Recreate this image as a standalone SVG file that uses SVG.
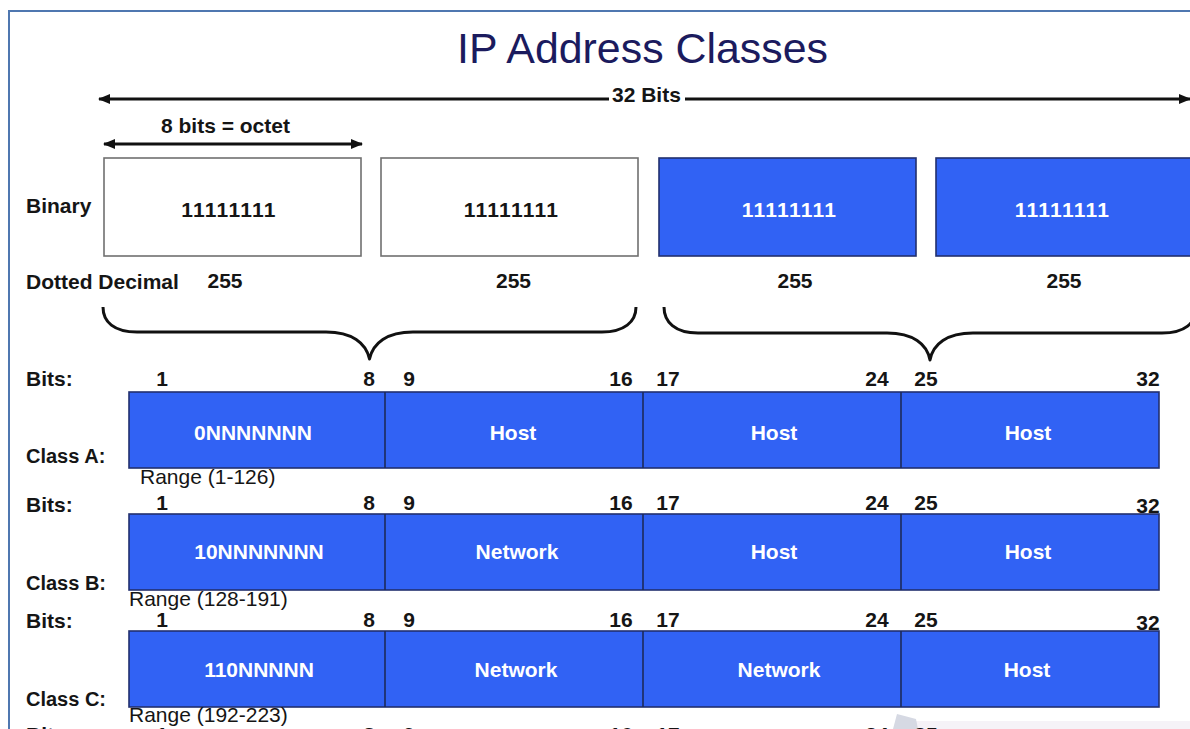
<svg xmlns="http://www.w3.org/2000/svg" width="1190" height="729" viewBox="0 0 1190 729">
  <defs>
    <marker id="tipEnd" markerUnits="userSpaceOnUse" markerWidth="12" markerHeight="10" refX="11" refY="5" orient="auto">
      <path d="M0,0 L12,5 L0,10 Z" fill="#111"/>
    </marker>
    <marker id="tipStart" markerUnits="userSpaceOnUse" markerWidth="12" markerHeight="10" refX="1" refY="5" orient="auto">
      <path d="M12,0 L0,5 L12,10 Z" fill="#111"/>
    </marker>
  </defs>
  <style>
    text { font-family: "Liberation Sans", Arial, sans-serif; }
    .title { font-size: 42px; fill: #1b1b5e; }
    .lbl { font-size: 21px; font-weight: bold; fill: #151515; }
    .cls { font-size: 20px; font-weight: bold; fill: #151515; }
    .num { font-size: 21px; font-weight: bold; fill: #151515; text-anchor: middle; }
    .rng { font-size: 21px; fill: #151515; }
    .in { font-size: 21px; font-weight: bold; fill: #ffffff; text-anchor: middle; }
    .inb { font-size: 21px; font-weight: bold; fill: #151515; text-anchor: middle; }
    .ones { letter-spacing: 1.3px; }
    .white { fill: #ffffff; stroke: #707070; stroke-width: 1.6; }
    .blue { fill: #3162f4; stroke: #22306e; stroke-width: 1.6; }
    .div { stroke: #1c2a5a; stroke-width: 1.6; }
    .line { stroke: #111; stroke-width: 3; fill: none; }
    .brace { stroke: #111; stroke-width: 3; fill: none; stroke-linejoin: round; }
  </style>

  <!-- page frame -->
  <path d="M9,729 L9,11 L1190,11" fill="none" stroke="#4f77b0" stroke-width="2"/>

  <text class="title" x="457" y="63" textLength="371" lengthAdjust="spacingAndGlyphs">IP Address Classes</text>

  <!-- dimension arrows and braces -->
  <g id="connectors">
    <line class="line" x1="99" y1="99" x2="609" y2="99" marker-start="url(#tipStart)"/>
    <line class="line" x1="685" y1="99" x2="1190" y2="99" marker-end="url(#tipEnd)"/>
    <line class="line" x1="104" y1="144" x2="362" y2="144" marker-start="url(#tipStart)" marker-end="url(#tipEnd)"/>
    <path class="brace" d="M103,307 C103,322 114,332 137,332 L326,332 C352,332 366,343 369.5,359 C373,343 387,332 413,332 L602,332 C624,332 636,322 636,307"/>
    <path class="brace" d="M664,307 C664,322 675,333 698,333 L887,333 C913,333 927,344 930,360 C933,344 947,333 973,333 L1162,333 C1185,333 1196,323 1196,308"/>
  </g>
  <text class="lbl" x="612" y="102">32 Bits</text>
  <text class="lbl" x="161" y="133">8 bits = octet</text>

  <!-- octet boxes -->
  <text class="lbl" x="26" y="213">Binary</text>
  <text class="lbl" x="26" y="289">Dotted Decimal</text>
  <g id="octet1">
    <rect class="white" x="104" y="158" width="257" height="98"/>
    <text class="inb ones" x="229" y="217">11111111</text>
    <text class="inb" x="225" y="288">255</text>
  </g>
  <g id="octet2">
    <rect class="white" x="381" y="158" width="257" height="98"/>
    <text class="inb ones" x="511.5" y="217">11111111</text>
    <text class="inb" x="513.5" y="288">255</text>
  </g>
  <g id="octet3">
    <rect class="blue" x="659" y="158" width="257" height="98"/>
    <text class="in ones" x="789.5" y="217">11111111</text>
    <text class="inb" x="795" y="288">255</text>
  </g>
  <g id="octet4">
    <rect class="blue" x="936" y="158" width="260" height="98"/>
    <text class="in ones" x="1062.5" y="217">11111111</text>
    <text class="inb" x="1064" y="288">255</text>
  </g>

  <!-- faint shading at the lower right -->
  <rect x="912" y="721" width="278" height="8" fill="#f5f2f7"/>
  <path d="M893,729 L897,714 L916,719 L918,729 Z" fill="#d6d9e3"/>

  <!-- bit position rows -->
  <g id="bitsA">
    <text class="lbl" x="26" y="386">Bits:</text>
    <text class="num" x="162" y="386">1</text>
    <text class="num" x="369" y="386">8</text>
    <text class="num" x="409" y="386">9</text>
    <text class="num" x="621" y="386">16</text>
    <text class="num" x="668" y="386">17</text>
    <text class="num" x="877" y="386">24</text>
    <text class="num" x="926" y="386">25</text>
    <text class="num" x="1148" y="386">32</text>
  </g>
  <g id="bitsB">
    <text class="lbl" x="26" y="512">Bits:</text>
    <text class="num" x="162" y="510">1</text>
    <text class="num" x="369" y="510">8</text>
    <text class="num" x="409" y="510">9</text>
    <text class="num" x="621" y="510">16</text>
    <text class="num" x="668" y="510">17</text>
    <text class="num" x="877" y="510">24</text>
    <text class="num" x="926" y="510">25</text>
    <text class="num" x="1148" y="513">32</text>
  </g>
  <g id="bitsC">
    <text class="lbl" x="26" y="628">Bits:</text>
    <text class="num" x="162" y="627">1</text>
    <text class="num" x="369" y="627">8</text>
    <text class="num" x="409" y="627">9</text>
    <text class="num" x="621" y="627">16</text>
    <text class="num" x="668" y="627">17</text>
    <text class="num" x="877" y="627">24</text>
    <text class="num" x="926" y="627">25</text>
    <text class="num" x="1148" y="630">32</text>
  </g>
  <g id="bitsD">
    <text class="lbl" x="26" y="742">Bits:</text>
    <text class="num" x="162" y="742">1</text>
    <text class="num" x="369" y="742">8</text>
    <text class="num" x="409" y="742">9</text>
    <text class="num" x="621" y="742">16</text>
    <text class="num" x="668" y="742">17</text>
    <text class="num" x="877" y="742">24</text>
    <text class="num" x="926" y="742">25</text>
    <text class="num" x="1148" y="745">32</text>
  </g>

  <!-- Class A -->
  <g id="classA">
    <rect class="blue" x="129" y="392" width="1030" height="76"/>
    <line class="div" x1="385" y1="392" x2="385" y2="468"/>
    <line class="div" x1="643" y1="392" x2="643" y2="468"/>
    <line class="div" x1="901" y1="392" x2="901" y2="468"/>
    <text class="in" x="253" y="440">0NNNNNNN</text>
    <text class="in" x="513" y="440">Host</text>
    <text class="in" x="774" y="440">Host</text>
    <text class="in" x="1028" y="440">Host</text>
    <text class="cls" x="26" y="463">Class A:</text>
    <text class="rng" x="140" y="484">Range (1-126)</text>
  </g>

  <!-- Class B -->
  <g id="classB">
    <rect class="blue" x="129" y="514" width="1030" height="76"/>
    <line class="div" x1="385" y1="514" x2="385" y2="590"/>
    <line class="div" x1="643" y1="514" x2="643" y2="590"/>
    <line class="div" x1="901" y1="514" x2="901" y2="590"/>
    <text class="in" x="259" y="559">10NNNNNNN</text>
    <text class="in" x="517" y="559">Network</text>
    <text class="in" x="774" y="559">Host</text>
    <text class="in" x="1028" y="559">Host</text>
    <text class="cls" x="26" y="590">Class B:</text>
    <text class="rng" x="129" y="606">Range (128-191)</text>
  </g>

  <!-- Class C -->
  <g id="classC">
    <rect class="blue" x="129" y="631" width="1030" height="76"/>
    <line class="div" x1="385" y1="631" x2="385" y2="707"/>
    <line class="div" x1="643" y1="631" x2="643" y2="707"/>
    <line class="div" x1="901" y1="631" x2="901" y2="707"/>
    <text class="in" x="259" y="677">110NNNNN</text>
    <text class="in" x="516" y="677">Network</text>
    <text class="in" x="779" y="677">Network</text>
    <text class="in" x="1027" y="677">Host</text>
    <text class="cls" x="26" y="706">Class C:</text>
    <text class="rng" x="129" y="722">Range (192-223)</text>
  </g>
</svg>
